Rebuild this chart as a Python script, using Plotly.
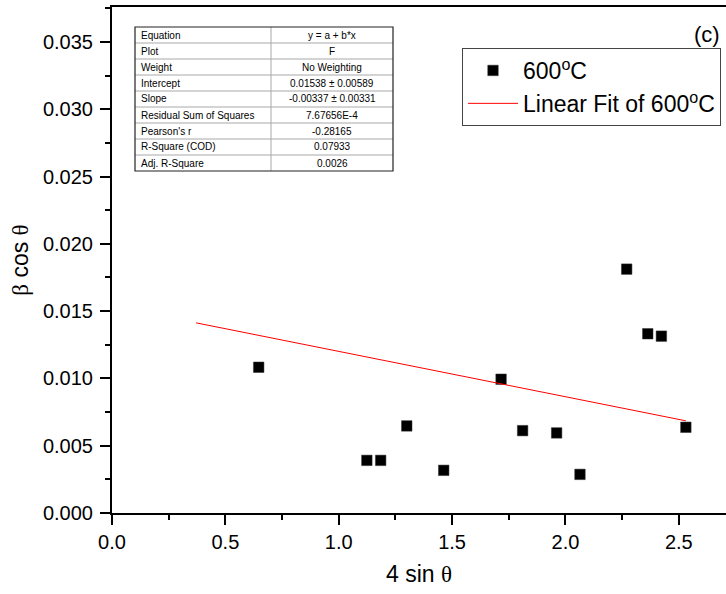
import plotly.graph_objects as go

# ---- data ----
x_vals = [0.647, 1.124, 1.185, 1.300, 1.463, 1.716, 1.811, 1.961, 2.064, 2.270, 2.363, 2.423, 2.531]
y_vals = [0.01083, 0.00391, 0.00391, 0.00647, 0.00317, 0.00994, 0.00612, 0.00595, 0.00287,
          0.01812, 0.01332, 0.01314, 0.00637]
fit_x = [0.371, 2.531]
fit_y = [0.01413, 0.00685]

series_name = "600<sup>o</sup>C"
fit_name = "Linear Fit of 600<sup>o</sup>C"

table_labels = ["Equation", "Plot", "Weight", "Intercept", "Slope",
                "Residual Sum of Squares", "Pearson's r", "R-Square (COD)", "Adj. R-Square"]
table_values = ["y = a + b*x", "F", "No Weighting", "0.01538 ± 0.00589", "-0.00337 ± 0.00331",
                "7.67656E-4", "-0.28165", "0.07933", "0.0026"]

x_range = [0, 2.708]
y_range = [0, 0.0376]

FONT = "Arial, 'Liberation Sans', sans-serif"
SERIF = "'Liberation Serif', 'DejaVu Serif', serif"

fig = go.Figure()
fig.add_trace(go.Scatter(x=x_vals, y=y_vals, mode="markers", name=series_name,
                         marker=dict(symbol="square", size=10.5, color="black",
                                     line=dict(width=0.5, color="#333"))))
fig.add_trace(go.Scatter(x=fit_x, y=fit_y, mode="lines", name=fit_name,
                         line=dict(color="red", width=1)))

# ---- layout geometry (pixels) ----
W, H = 726, 594
L, R, T, B = 112, 0, 7, 81
pw, ph = W - L - R, H - T - B

def px(xp):
    return (xp - L) / pw

def py(yp):
    return (H - B - yp) / ph

shapes = []
annotations = []

# fit-statistics table
tx0, tx1, tdiv = 135, 393, 271
ty0, rowh = 27, 16
nrows = len(table_labels)
ty1 = ty0 + rowh * nrows
for i in range(1, nrows):
    yy = ty0 + i * rowh
    shapes.append(dict(type="line", xref="paper", yref="paper", x0=px(tx0), x1=px(tx1),
                       y0=py(yy), y1=py(yy), line=dict(color="#a8a8a8", width=1)))
shapes.append(dict(type="line", xref="paper", yref="paper", x0=px(tdiv), x1=px(tdiv),
                   y0=py(ty0), y1=py(ty1), line=dict(color="#a8a8a8", width=1)))
shapes.append(dict(type="rect", xref="paper", yref="paper", x0=px(tx0), x1=px(tx1),
                   y0=py(ty0), y1=py(ty1), line=dict(color="#222", width=1.2)))
for i, (lab, val) in enumerate(zip(table_labels, table_values)):
    yc = ty0 + (i + 0.5) * rowh
    annotations.append(dict(xref="paper", yref="paper", x=px(tx0 + 4), y=py(yc),
                            xanchor="left", yanchor="middle", text=lab, showarrow=False,
                            font=dict(family=FONT, size=10, color="black")))
    annotations.append(dict(xref="paper", yref="paper", x=px((tdiv + tx1) / 2), y=py(yc),
                            xanchor="center", yanchor="middle", text=val, showarrow=False,
                            font=dict(family=FONT, size=10, color="black")))

# panel label
annotations.append(dict(xref="paper", yref="paper", x=px(722), y=py(34), xanchor="right",
                        yanchor="middle", text="(c)", showarrow=False,
                        font=dict(family=FONT, size=22, color="black")))

fig.update_layout(
    width=W, height=H,
    margin=dict(l=L, r=R, t=T, b=B, autoexpand=False),
    paper_bgcolor="white", plot_bgcolor="white",
    font=dict(family=FONT, size=20, color="black"),
    showlegend=True,
    legend=dict(x=px(462), y=py(48), xanchor="left", yanchor="top",
                bgcolor="white", bordercolor="#444", borderwidth=1,
                font=dict(family=FONT, size=23, color="black"),
                itemwidth=50, tracegroupgap=0),
    shapes=shapes, annotations=annotations,
)
fig.update_xaxes(range=x_range, dtick=0.5, tick0=0, tickformat=".1f",
                 showgrid=False, zeroline=False, showline=True, linecolor="black", linewidth=2,
                 mirror=True, ticks="outside", ticklen=10, tickwidth=2, tickcolor="black",
                 minor=dict(dtick=0.25, tick0=0, ticks="outside", ticklen=5, tickwidth=2,
                            tickcolor="black", showgrid=False),
                 tickfont=dict(family=FONT, size=20),
                 title=dict(text="4 sin <span style=\"font-family:" + SERIF + "\">θ</span>",
                            font=dict(family=FONT, size=23), standoff=14))
fig.update_yaxes(range=y_range, dtick=0.005, tick0=0, tickformat=".3f",
                 showgrid=False, zeroline=False, showline=True, linecolor="black", linewidth=2,
                 mirror=False, ticks="outside", ticklen=10, tickwidth=2, tickcolor="black",
                 minor=dict(dtick=0.0025, tick0=0, ticks="outside", ticklen=5, tickwidth=2,
                            tickcolor="black", showgrid=False),
                 tickfont=dict(family=FONT, size=20), ticklabelstandoff=3,
                 title=dict(text="<span style=\"font-family:" + SERIF + "\">β</span> cos <span style=\"font-family:" + SERIF + "\">θ</span>",
                            font=dict(family=FONT, size=23), standoff=8))

fig.write_html("out.html", config={"displayModeBar": False},
               post_script="document.body.style.margin='0';document.body.style.overflow='hidden';")
